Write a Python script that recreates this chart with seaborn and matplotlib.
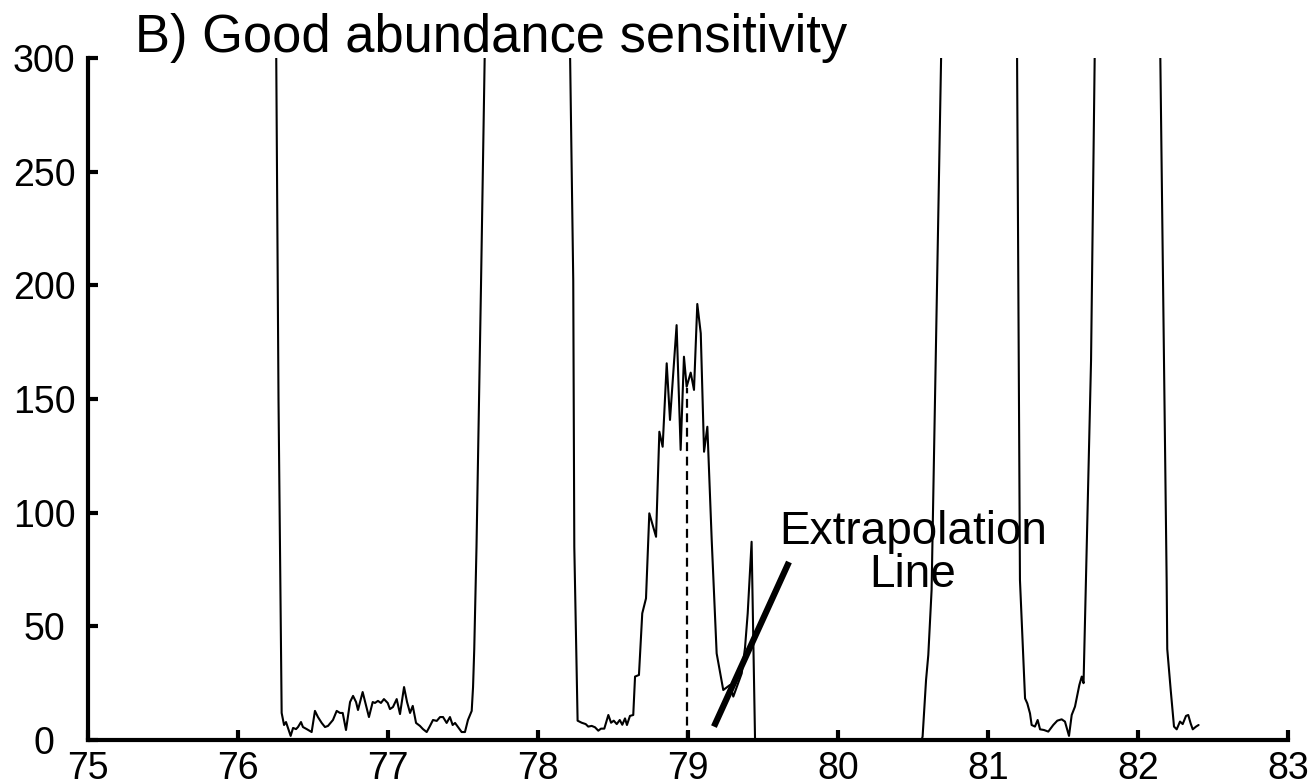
"""Mass spectrum excerpt: good abundance sensitivity (panel B)."""

import matplotlib
matplotlib.use("Agg")
import matplotlib.pyplot as plt
import pandas as pd
import seaborn as sns

# signal trace (counts above 300 are off-scale peaks)
left_mz = [76.200, 76.253, 76.270, 76.291, 76.307, 76.320, 76.333, 76.351, 76.367, 76.387,
           76.400, 76.420, 76.433, 76.458, 76.491, 76.513, 76.533, 76.558, 76.580, 76.600,
           76.633, 76.658, 76.680, 76.698, 76.720, 76.747, 76.767, 76.787, 76.800, 76.831,
           76.853, 76.873, 76.898, 76.913, 76.933, 76.953, 76.973, 76.998, 77.013, 77.033,
           77.058, 77.080, 77.107, 77.127, 77.147, 77.165, 77.187, 77.213, 77.233, 77.258,
           77.280, 77.300, 77.325, 77.347, 77.367, 77.391, 77.413, 77.431, 77.447, 77.467,
           77.491, 77.513, 77.533, 77.558, 77.567, 77.575, 77.590, 77.620, 77.650, 77.930]
left_counts = [2400, 320, 150, 11.9, 6.6, 7.9, 5.3, 1.8, 5.3, 4.8,
               5.7, 7.9, 5.7, 4.8, 3.5, 12.8, 10.1, 7.5, 5.7, 6.2,
               8.8, 12.8, 11.9, 11.9, 4.4, 16.7, 19.4, 16.7, 13.2, 21.1,
               15.4, 10.1, 16.7, 16.3, 17.2, 16.3, 18.0, 16.3, 13.6, 14.5,
               18.0, 11.4, 23.3, 16.7, 11.9, 15.0, 7.5, 6.2, 4.8, 3.5,
               6.2, 8.8, 8.4, 10.1, 10.1, 7.5, 10.1, 6.6, 7.5, 5.7,
               3.5, 3.5, 8.8, 12.8, 23.3, 40, 85, 200, 320, 2400]

mid_mz = [78.212, 78.235, 78.242, 78.264, 78.291, 78.318, 78.335, 78.358, 78.380, 78.402,
          78.420, 78.442, 78.469, 78.487, 78.505, 78.525, 78.545, 78.562, 78.580, 78.593,
          78.613, 78.635, 78.647, 78.673, 78.695, 78.720, 78.742, 78.787, 78.809, 78.831,
          78.858, 78.880, 78.924, 78.951, 78.973, 78.991, 79.018, 79.040, 79.062, 79.085,
          79.107, 79.129, 79.158, 79.191, 79.235, 79.280, 79.302, 79.358, 79.380, 79.398,
          79.424, 79.447, 80.557]
mid_counts = [310, 202, 85, 8.5, 7.6, 7.0, 5.9, 6.2, 5.6, 4.1,
              5.0, 5.0, 11.0, 7.6, 8.5, 7.0, 8.8, 6.7, 9.5, 6.6,
              10.6, 11.0, 27.9, 28.6, 55.7, 62.3, 99.7, 89.4, 135.6, 129.0,
              165.7, 140.8, 182.5, 127.6, 168.6, 155.4, 161.6, 154.0, 191.8, 178.9,
              126.8, 137.8, 88.0, 38.1, 22.0, 24.2, 19.1, 29.3, 40.5, 55.7,
              87.2, 0, 0]

right_mz = [80.564, 80.587, 80.602, 80.624, 80.690, 80.950, 81.193, 81.213, 81.247, 81.262,
            81.280, 81.291, 81.313, 81.331, 81.347, 81.373, 81.402, 81.435, 81.462, 81.491,
            81.513, 81.540, 81.558, 81.580, 81.609, 81.625, 81.637, 81.687, 81.713, 81.930]
right_counts = [1.5, 26.4, 37.4, 66.0, 310, 2400, 310, 70.4, 18.3, 16.1,
                11.7, 6.6, 5.9, 8.8, 4.7, 4.4, 3.7, 6.6, 8.5, 9.1,
                8.1, 1.8, 11.0, 14.7, 24.2, 27.9, 25.0, 167, 310, 2400]

tail_mz = [82.147, 82.191, 82.195, 82.218, 82.240, 82.258, 82.280, 82.298, 82.320, 82.335,
           82.351, 82.365, 82.387, 82.404]
tail_counts = [310, 70, 40, 22.0, 5.9, 4.7, 8.1, 7.0, 10.6, 11.0,
               7.3, 4.7, 5.9, 6.6]

# reference mass marker and the extrapolation line
marker_mz = 78.99
marker_top = 155
extrap_mz = [79.173, 79.673]
extrap_counts = [5.9, 78.3]

x_ticks = [75, 76, 77, 78, 79, 80, 81, 82, 83]
y_ticks = [0, 50, 100, 150, 200, 250, 300]

title = "B) Good abundance sensitivity"
note = "Extrapolation\nLine"

spectrum = pd.DataFrame({
    "mz": left_mz + mid_mz + right_mz + tail_mz,
    "counts": left_counts + mid_counts + right_counts + tail_counts,
})

sns.set_style("ticks", {"axes.edgecolor": "black", "text.color": "black",
                        "xtick.color": "black", "ytick.color": "black"})
plt.rcParams["font.family"] = ["Liberation Sans", "DejaVu Sans"]

fig = plt.figure(figsize=(13.15, 7.83), dpi=100)
ax = fig.add_axes([88 / 1315, 43 / 783, 1200 / 1315, 682 / 783])

sns.lineplot(data=spectrum, x="mz", y="counts", sort=False, estimator=None,
             color="black", linewidth=1.5, ax=ax)
sns.lineplot(x=[marker_mz, marker_mz], y=[0, marker_top], sort=False, estimator=None,
             color="black", linewidth=1.6, linestyle=(0, (4, 2.5)), ax=ax)
sns.lineplot(x=extrap_mz, y=extrap_counts, sort=False, estimator=None,
             color="black", linewidth=4.5, solid_capstyle="butt", ax=ax)

ax.set_xlim(75, 83)
ax.set_ylim(0, 300)
ax.set_xticks(x_ticks)
ax.set_yticks(y_ticks)
ax.set_xlabel("")
ax.set_ylabel("")
ax.tick_params(direction="in", length=7, width=3, labelsize=27, colors="black")
ax.tick_params(axis="x", pad=8)
ax.tick_params(axis="y", pad=31.5)
for lab in ax.get_yticklabels():
    lab.set_horizontalalignment("center")
sns.despine(ax=ax)
for side in ("left", "bottom"):
    ax.spines[side].set_linewidth(3)
    ax.spines[side].set_color("black")

ax.text(0.039, 1.0 + 6 / 682, title, transform=ax.transAxes,
        fontsize=37.8, va="baseline", ha="left", color="black")
ax.text(80.5, 82, note, fontsize=33, ha="center", va="center",
        linespacing=0.95, color="black")

fig.savefig("out.png", dpi=100)
